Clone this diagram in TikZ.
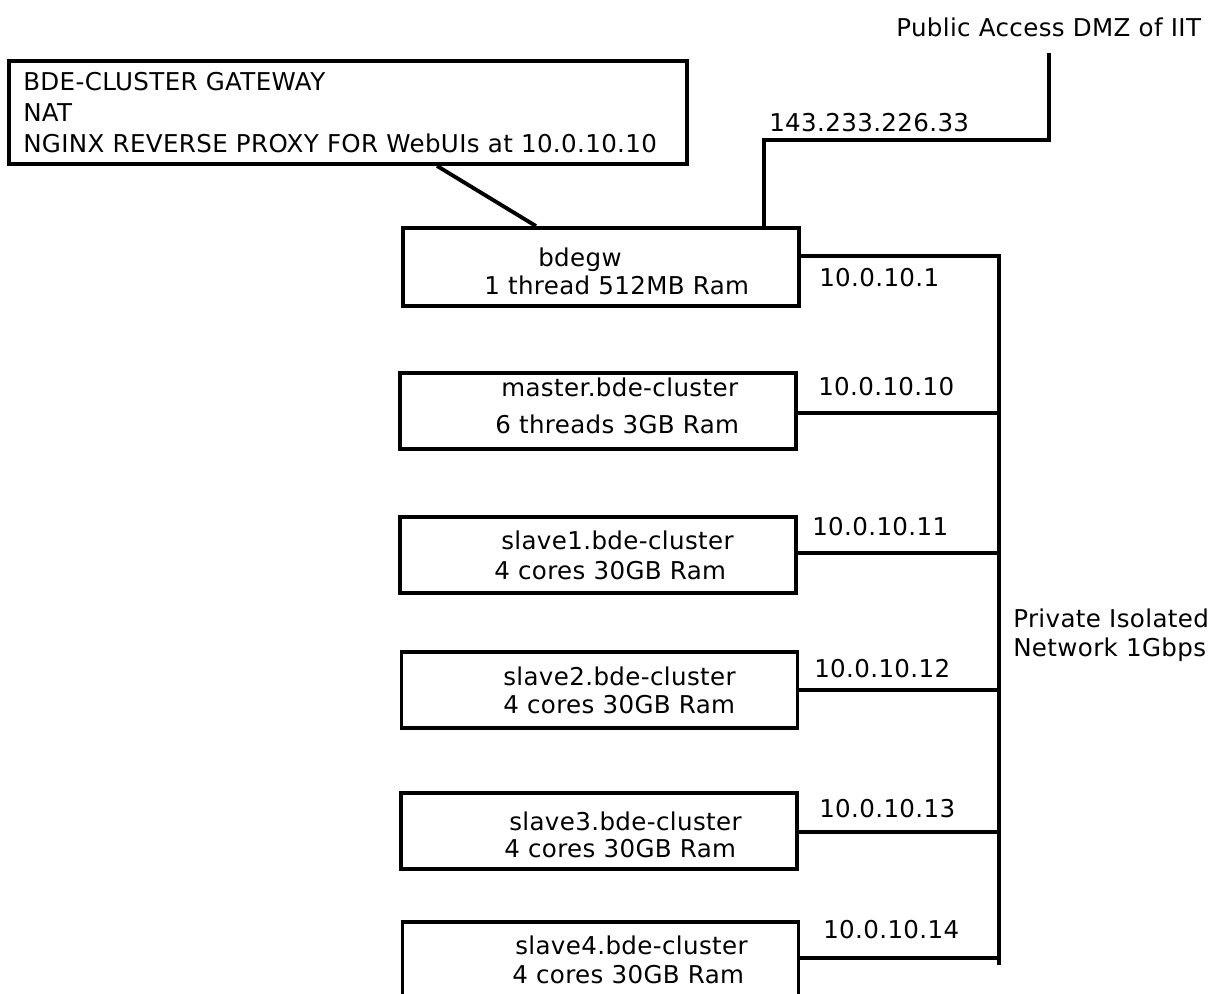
\documentclass[tikz,border=0pt]{standalone}
\usepackage{fontspec}
\setmainfont{DejaVu Sans}[LetterSpace=1.5]
\usetikzlibrary{calc}
\begin{document}
\begin{tikzpicture}[x=0.75pt,y=-0.75pt,
  box/.style={draw,line width=2.9pt,rectangle,inner sep=0pt,minimum width=297pt,minimum height=57pt},
  txt/.style={anchor=base west,inner sep=0pt,font=\fontsize{18.4pt}{22pt}\selectfont},
  wire/.style={line width=2.9pt}]
\useasboundingbox (0,0) rectangle (1211,994);
\fill[white] (0,0) rectangle (1211,994);

% boxes
\node[box,minimum width=508.5pt,minimum height=77.25pt] (gw) at (348,112.5) {};
\node[box,minimum height=58.5pt] (bdegw) at (601,267) {};
\node[box] (master) at (598,411) {};
\node[box] (s1) at (598,555) {};
\node[box] (s2) at (599.5,690) {};
\node[box] (s3) at (599,831) {};
\node[box,minimum height=58.5pt] (s4) at (600.5,961) {};

% texts
\node[txt] (g1) at (23,91) {BDE-CLUSTER GATEWAY};
\node[txt] (g2) at (23,122) {NAT};
\node[txt] (g3) at (23,153) {NGINX REVERSE PROXY FOR WebUIs at 10.0.10.10};
\node[txt] (b1) at (538,267) {bdegw};
\node[txt] (b2) at (484,295) {1 thread 512MB Ram};
\node[txt] (m1) at (501,397) {master.bde-cluster};
\node[txt] (m2) at (495,434) {6 threads 3GB Ram};
\node[txt] (a1) at (501,550) {slave1.bde-cluster};
\node[txt] (a2) at (494,580) {4 cores 30GB Ram};
\node[txt] (c1) at (503,686) {slave2.bde-cluster};
\node[txt] (c2) at (503,714) {4 cores 30GB Ram};
\node[txt] (d1) at (509,830) {slave3.bde-cluster};
\node[txt] (d2) at (504,857) {4 cores 30GB Ram};
\node[txt] (e1) at (515,954) {slave4.bde-cluster};
\node[txt] (e2) at (512,983) {4 cores 30GB Ram};

\node[txt] (dmz) at (896,37) {Public Access DMZ of IIT};
\node[txt] (pubip) at (769,132) {143.233.226.33};
\node[txt] (ip1) at (819,287) {10.0.10.1};
\node[txt] (ip10) at (818,396) {10.0.10.10};
\node[txt] (ip11) at (812,536) {10.0.10.11};
\node[txt] (ip12) at (814,677) {10.0.10.12};
\node[txt] (ip13) at (819,817) {10.0.10.13};
\node[txt] (ip14) at (823,938) {10.0.10.14};
\node[txt] (pn1) at (1013,628) {Private Isolated};
\node[txt] (pn2) at (1013,657) {Network 1Gbps};

% bus coordinates
\coordinate (j0) at (999,256);
\coordinate (j1) at (999,413);
\coordinate (j2) at (999,553);
\coordinate (j3) at (999,690);
\coordinate (j4) at (999,832);
\coordinate (j5) at (999,958);
\coordinate (jend) at (999,965);
\coordinate (up1) at (1049,140);
\coordinate (dmzend) at (1049,53);

% connectors
\draw[wire] ($(gw.south)+(89,0)$) -- ($(bdegw.north)+(-65,0)$);
\draw[wire] ($(bdegw.north)+(163,0)$) |- (up1) -- (dmzend);
\draw[wire] (bdegw.east |- j0) -- (j0) -- (jend);
\draw[wire] (master.east |- j1) -- (j1);
\draw[wire] (s1.east |- j2) -- (j2);
\draw[wire] (s2.east |- j3) -- (j3);
\draw[wire] (s3.east |- j4) -- (j4);
\draw[wire] (s4.east |- j5) -- (j5);
\end{tikzpicture}
\end{document}
